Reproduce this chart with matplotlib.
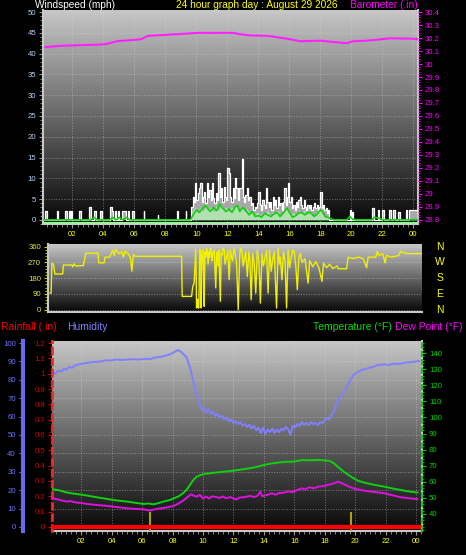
import numpy as np
import matplotlib
matplotlib.use('Agg')
import matplotlib.pyplot as plt
from matplotlib.colors import LinearSegmentedColormap
from matplotlib.ticker import MultipleLocator, FuncFormatter

plt.rcParams['font.family'] = ['Liberation Sans', 'DejaVu Sans']

# ---- data (hours of day) ----
baro_h = [0.26, 1.2, 3.8, 4.26, 4.9, 6.4, 6.9, 8.8, 10.1, 12.4, 12.8, 13.5, 14.6,
          16.1, 16.7, 18.0, 18.8, 19.7, 20.1, 21.0, 21.9, 22.5, 24.0, 24.25]
baro_in = [30.13, 30.14, 30.15, 30.156, 30.176, 30.19, 30.217, 30.23, 30.24, 30.24,
           30.23, 30.22, 30.217, 30.19, 30.175, 30.18, 30.17, 30.16, 30.175, 30.18,
           30.19, 30.198, 30.195, 30.19]

# gusts: calm spikes before the windy spell, 5-minute readings during it, spikes after
pre_h = [0.1, 0.25, 0.33, 1.0, 1.06, 1.55, 1.68, 1.75, 1.85, 1.92, 2.0, 2.45, 2.52,
         3.1, 3.17, 3.42, 3.5, 3.8, 3.88, 4.45, 4.55, 4.62, 4.75, 4.83, 4.95, 5.03,
         5.2, 5.45, 5.6, 5.68, 5.85, 6.0, 6.6, 6.65, 7.5, 7.55, 8.75, 8.8, 9.3, 9.35]
pre_mph = [0, 2.2, 0, 2.2, 0, 2.2, 0, 2.2, 0, 2.2, 0, 2.2, 0,
           3.0, 0, 2.2, 0, 2.2, 0, 3.0, 2.2, 0, 2.2, 0, 2.2, 0,
           2.2, 0, 2.2, 0, 2.2, 0, 2.2, 0, 1.1, 0, 2.2, 0, 2.2, 0]
gust_mph = [3.2, 5.6, 4.4, 8.8, 4.8, 6.4, 7.6, 8.8, 4.4, 5.6, 6.8, 4.0, 8.8, 5.6, 7.2,
            4.8, 8.8, 5.2, 4.0, 6.4, 4.8, 11.2, 5.6, 7.6, 4.4, 8.0, 5.6, 4.8, 12.4,
            11.2, 5.6, 4.4, 7.6, 5.2, 10.0, 7.6, 4.8, 7.6, 7.6, 14.6, 5.6, 4.4, 6.0,
            7.6, 4.8, 5.6, 3.6, 4.0, 2.4, 3.2, 2.8, 4.0, 6.8, 3.6, 2.4, 4.8, 3.6, 2.8,
            7.6, 4.4, 3.2, 4.4, 2.4, 5.6, 3.6, 4.8, 2.8, 5.6, 3.6, 4.0, 2.4, 4.4, 7.6,
            3.6, 5.6, 8.8, 4.4, 5.6, 2.8, 3.6, 2.4, 4.4, 3.2, 4.8, 5.6, 3.6, 2.8, 4.8,
            3.2, 2.4, 3.6, 2.8, 3.6, 2.4, 3.2, 4.0, 2.8, 3.6, 2.4, 3.2, 6.8, 2.8, 3.6,
            2.4, 2.8, 1.6, 2.4, 0.0]
post_h = [18.67, 19.9, 19.97, 20.05, 20.12, 21.35, 21.45, 21.7, 21.78, 22.0, 22.1,
          22.4, 22.55, 22.7, 22.8, 23.0, 23.15, 23.5, 23.6, 23.75, 24.3]
post_mph = [0, 2.4, 0, 2.0, 0, 2.8, 0, 2.4, 0, 2.4, 0, 2.4, 0, 2.4, 0, 2.0, 0, 2.4, 0,
            2.4, 2.4]

# wind speed, 10-minute readings from 09:36
speed_mph = [0, 2.4, 3.0, 1.6, 3.2, 2.0, 3.6, 2.4, 3.2, 1.8, 3.4, 2.2, 3.8, 2.6, 3.0,
             2.0, 3.2, 2.4, 3.6, 2.2, 3.4, 1.8, 2.8, 1.4, 2.4, 1.0, 2.0, 0.8, 1.8, 1.2,
             2.4, 1.0, 2.0, 1.4, 2.4, 1.0, 2.2, 3.0, 2.4, 1.2, 1.8, 1.0, 2.2, 1.6, 2.4,
             1.2, 2.0, 1.6, 1.0, 1.8, 2.6, 1.4, 1.0, 0.6, 0.0]

avg_h = [0.1, 3.2, 3.4, 3.6, 4.4, 4.6, 4.8, 4.9, 5.0, 5.2, 5.4, 5.5, 5.7, 9.6, 9.8, 10.0,
         10.2, 10.4, 10.6, 10.75, 10.9, 11.1, 11.3, 11.5, 11.7, 11.9, 12.1, 12.3, 12.5,
         12.65, 12.8, 13.0, 13.2, 13.4, 13.6, 13.8, 14.0, 14.2, 14.4, 14.6, 14.8, 15.0,
         15.2, 15.4, 15.6, 15.85, 16.0, 16.2, 16.4, 16.6, 16.8, 17.0, 17.2, 17.4, 17.6,
         17.8, 18.0, 18.15, 18.3, 18.5, 18.7, 18.9, 19.7, 19.9, 20.1, 20.3, 21.3, 21.5,
         21.8, 22.0, 24.3]
avg_mph = [0, 0, 0.6, 0, 0, 0.6, 0, 0.2, 0.6, 0.1, 0.3, 0.6, 0, 0, 1.2, 2.4, 1.8, 2.8,
           3.4, 2.6, 2.0, 3.0, 2.2, 3.8, 2.8, 2.0, 2.6, 1.8, 3.2, 3.4, 2.0, 3.0, 2.2,
           1.2, 2.0, 0.8, 1.0, 0.6, 1.6, 1.2, 0.8, 1.4, 1.8, 0.8, 1.6, 2.8, 1.8, 0.6,
           1.0, 1.6, 1.8, 1.2, 1.8, 1.6, 0.8, 1.4, 2.4, 2.0, 0.8, 0.6, 0.2, 0, 0, 0.8,
           0.1, 0, 0, 0.6, 0.4, 0, 0]

dir_h = [0.13, 0.2, 0.25, 0.35, 0.45, 0.95, 1.0, 1.55, 1.6, 1.7, 1.8, 2.3, 2.45, 3.25,
         3.3, 3.65, 3.7, 4.0, 4.2, 4.3, 4.4, 4.6, 4.8, 4.9, 5.0, 5.2, 5.35, 5.45, 5.55,
         5.65, 8.68, 8.72, 9.33, 9.4, 9.5,
         9.6, 9.63, 9.65, 9.72, 9.76, 9.8, 9.84, 9.87, 9.9, 9.93, 9.95, 9.98, 10.02,
         10.05, 10.1, 10.15, 10.18, 10.2, 10.25, 10.3, 10.35, 10.4, 10.45, 10.5, 10.55,
         10.6, 10.65, 10.7, 10.8, 10.9, 10.95, 11.0, 11.05, 11.1, 11.2, 11.25, 11.3,
         11.38, 11.45, 11.5, 11.6, 11.68, 11.77, 11.85, 11.92, 12.0, 12.08, 12.15,
         12.25, 12.36, 12.45, 12.5, 12.6, 12.68, 12.75, 12.85, 12.95, 13.05, 13.12,
         13.2, 13.3, 13.4, 13.5, 13.6, 13.7, 13.8, 13.9, 14.0, 14.1, 14.2, 14.3, 14.4,
         14.5, 14.6, 14.7, 14.85, 14.95, 15.05, 15.1, 15.2, 15.3, 15.4, 15.5, 15.6,
         15.7, 15.8, 15.9, 16.0, 16.1, 16.2, 16.3, 16.4, 16.5,
         16.7, 16.9, 17.0, 17.2, 17.4, 17.6, 17.8, 17.9, 18.1, 18.3, 18.5, 18.8, 18.85,
         19.4, 19.5, 19.8, 20.2, 20.5, 20.7, 20.8, 21.3, 21.4, 21.5, 21.75, 21.9, 22.0,
         22.3, 22.8, 22.9, 23.3, 24.25]
dir_deg = [95, 95, 265, 260, 204, 204, 255, 255, 245, 262, 250, 252, 322, 324,
           268, 268, 300, 300, 340, 310, 345, 320, 330, 300, 335, 320, 300, 220, 315,
           305, 305, 76, 76, 130, 155,
           343, 200, 10, 60, 10, 10, 250, 343, 330, 310, 10, 200, 330,
           343, 290, 19, 240, 330, 300, 350, 340, 260, 330, 300, 350,
           345, 280, 320, 340, 124, 300, 330, 250, 340, 48, 320, 310,
           350, 345, 260, 300, 340, 171, 340, 300, 280, 350, 325,
           270, 0, 300, 350, 340, 250, 285, 330, 190, 330, 280,
           57, 320, 260, 95, 340, 280, 38, 320, 250, 300, 340, 95, 340,
           220, 290, 330, 10, 350, 260, 300, 171, 330, 280, 10, 340,
           240, 300, 340, 330, 250, 114, 300, 320, 270,
           290, 152, 280, 245, 275, 240, 162, 265, 240, 260, 235, 250, 234,
           234, 299, 292, 300, 290, 240, 300, 300, 333, 310, 320, 267, 310,
           300, 310, 333, 320, 320]

hum_h = [0.1, 0.3, 0.5, 0.7, 0.85, 1.0, 1.2, 1.4, 1.6, 1.9, 2.2, 2.6, 3.0, 3.3, 3.6, 3.9,
         4.3, 4.7, 5.0, 5.4, 5.8, 6.2, 6.5, 6.8, 7.1, 7.4, 7.7, 8.0, 8.2, 8.35, 8.5, 8.7,
         8.9, 9.05, 9.2, 9.35, 9.5, 9.65, 9.8, 9.95, 10.1, 10.2, 10.35, 10.5, 10.65,
         10.8, 10.95, 11.1, 11.25, 11.4, 11.55, 11.7, 11.85, 12.0, 12.15, 12.3, 12.45,
         12.6, 12.75, 12.9, 13.05, 13.2, 13.35, 13.5, 13.65, 13.8, 13.95, 14.1, 14.25,
         14.4, 14.55, 14.7, 14.85, 15.0, 15.15, 15.3, 15.45, 15.6, 15.75, 15.9, 16.05,
         16.2, 16.35, 16.5, 16.65, 16.8, 16.95, 17.1, 17.25, 17.4, 17.55, 17.7, 17.85,
         18.0, 18.15, 18.3, 18.45, 18.6, 18.75, 18.9, 19.1, 19.3, 19.5, 19.7, 19.9,
         20.1, 20.4, 20.8, 21.2, 21.5, 21.9, 22.2, 22.5, 22.8, 23.1, 23.4, 23.7, 24.0,
         24.2]
hum_pct = [84, 83.5, 85, 84.5, 86, 85.5, 87, 86.5, 88, 88.5, 89, 89.5, 89.8, 90, 90.6,
           90.5, 91, 90.8, 91, 91.2, 91, 91.4, 91.2, 92, 92.4, 92.8, 93.5, 94.5, 95.6,
           96.2, 95.5, 94, 92.5, 89, 85, 80, 74, 70, 66, 63.5, 65, 62, 64, 61.5, 63,
           60.5, 61.5, 59.5, 60.5, 58.5, 59.5, 57.5, 58.5, 56.5, 57.5, 56, 57, 55, 56,
           54.5, 55.5, 53.5, 55, 52.5, 54, 51, 54, 50.5, 53, 51.5, 53.5, 51, 53, 51.5,
           53.5, 52.5, 54.5, 53, 50, 55, 54, 56, 55, 57, 55.5, 56.5, 55.5, 57, 56, 56.5,
           55.5, 57, 56.5, 58, 59, 58.5, 61, 62.5, 66, 69, 71.5, 74, 77, 80, 82.6, 84,
           85.2, 86.2, 87, 88, 88.4, 88, 88.8, 88.5, 89, 89.5, 89.6, 90, 90.2]

temp_h = [0.1, 0.5, 1.0, 1.5, 2.0, 2.4, 3.0, 3.7, 4.3, 5.0, 5.5, 6.1, 6.4, 6.75, 7.1, 7.4,
          7.8, 8.1, 8.4, 8.7, 8.9, 9.07, 9.25, 9.4, 9.6, 9.83, 10.2, 10.7, 11.3, 12.0,
          12.5, 13.1, 13.6, 14.0, 14.4, 14.9, 15.4, 15.96, 16.3, 16.6, 17.1, 17.7, 18.0,
          18.3, 18.6, 18.9, 19.25, 19.6, 19.9, 20.2, 20.6, 21.2, 21.9, 22.4, 23.0, 23.5,
          24.1]
temp_f = [55.3, 54.8, 53.4, 52.6, 52.0, 51.4, 50.4, 49.3, 48.4, 47.7, 47.0, 46.2, 46.5,
          46.0, 46.8, 47.7, 48.6, 49.8, 51.0, 52.9, 54.8, 57, 59.5, 61.5, 63.2, 64.2,
          65.0, 65.6, 66.2, 66.9, 67.6, 68.4, 69.4, 70.4, 71.2, 71.9, 72.4, 72.5, 73.2,
          73.5, 73.4, 73.6, 73.2, 73.1, 71.5, 69.0, 66.3, 64.0, 62.2, 60.6, 59.5, 58.2,
          57.0, 56.0, 54.9, 54.0, 53.3]

dew_h = [0.1, 0.4, 0.7, 1.05, 1.3, 1.6, 2.0, 2.37, 2.8, 3.2, 3.7, 4.2, 4.6, 5.0, 5.5, 6.1,
         6.5, 6.8, 7.2, 7.6, 8.07, 8.4, 8.7, 8.95, 9.2, 9.35, 9.6, 9.8, 10.0, 10.2, 10.4,
         10.6, 10.9, 11.1, 11.3, 11.5, 11.8, 12.0, 12.2, 12.4, 12.7, 13.1, 13.4, 13.6,
         13.76, 13.9, 14.2, 14.5, 14.8, 15.0, 15.3, 15.6, 15.9, 16.2, 16.5, 16.7, 17.0,
         17.3, 17.6, 17.95, 18.2, 18.4, 18.6, 18.9, 19.2, 19.5, 19.8, 20.15, 20.7, 21.3,
         21.9, 22.5, 23.0, 23.5, 24.1]
dew_f = [49.7, 49.2, 48.4, 47.7, 48.0, 47.2, 46.8, 46.2, 45.8, 45.4, 45.0, 44.4, 44.0,
         43.5, 43.2, 42.9, 42.1, 42.8, 43.5, 44.0, 45.0, 46.5, 48.3, 50.2, 52.2, 51.5,
         50.8, 51.8, 49.7, 50.8, 49.6, 51.0, 50.4, 50.0, 50.9, 49.8, 50.5, 49.7, 49.0,
         50.2, 50.4, 51.2, 50.5, 51.5, 53.8, 51.0, 51.8, 52.8, 52.0, 53.0, 53.2, 54.0,
         53.6, 54.9, 56.0, 55.2, 56.6, 56.0, 57.0, 57.4, 58.0, 58.5, 59.1, 60.1, 58.8,
         57.4, 56.2, 55.3, 54.3, 53.6, 52.9, 51.5, 50.4, 49.8, 49.2]

rain_rate_h = [6.54, 19.7]
rain_rate_in = [0.1, 0.1]
rain_total_h = [0.07, 24.4]
rain_total_in = [0.0, 0.0]

hour_ticks = [2, 4, 6, 8, 10, 12, 14, 16, 18, 20, 22, 24]
compass = ['N', 'W', 'S', 'E', 'N']
compass_deg = [360, 270, 180, 90, 0]

# ---- layout (pixel boxes of the original) ----
W, H = 466, 555
fig = plt.figure(figsize=(W / 100, H / 100), dpi=100, facecolor='black')
GRAD = LinearSegmentedColormap.from_list('grad', ['#070707', '#c6c6c6'])
TICK_FS = 5.6


def px_axes(l, t, r, b):
    return fig.add_axes([l / W, 1 - b / H, (r - l) / W, (b - t) / H])


def backdrop(ax):
    ax.imshow(np.linspace(0, 1, 256).reshape(-1, 1), cmap=GRAD, aspect='auto',
              extent=(0, 1, 0, 1), transform=ax.transAxes, origin='lower', zorder=0)


def hour_fmt(v, pos):
    return '%02d' % (int(round(v)) % 24)


def trim_fmt(v, pos):
    s = '%.1f' % v
    return s[:-2] if s.endswith('.0') else s


def style_frame(ax):
    ax.set_facecolor('none')
    for s in ax.spines.values():
        s.set_color('#c8c8c8')
        s.set_linewidth(1.5)
    ax.spines['top'].set_visible(False)


# ---- top: wind speed + barometer ----
ax1 = px_axes(43, 10, 418, 224)
backdrop(ax1)
style_frame(ax1)
ax1.set_xlim(0.1, 24.3)
ax1.set_ylim(-1.0, 50.5)
ax1.yaxis.set_major_locator(MultipleLocator(5))
ax1.yaxis.set_minor_locator(MultipleLocator(1))
ax1.xaxis.set_major_locator(plt.FixedLocator(hour_ticks))
ax1.xaxis.set_minor_locator(MultipleLocator(1 / 3))
ax1.xaxis.set_major_formatter(FuncFormatter(hour_fmt))
ax1.tick_params(axis='y', which='both', colors='#9a9a9a', labelcolor='#b8d0f8',
                labelsize=TICK_FS, length=3, pad=2)
ax1.tick_params(axis='y', which='minor', length=2)
ax1.tick_params(axis='x', which='both', colors='#9a9a9a', labelcolor='#ffff00',
                labelsize=TICK_FS, length=3, pad=2)
ax1.tick_params(axis='x', which='minor', length=2)
ax1.grid(True, which='major', color='#dcdcdc', ls=':', lw=0.7, alpha=0.45)

gh = np.concatenate([pre_h, 9.667 + np.arange(len(gust_mph)) / 12, post_h])
gv = np.concatenate([pre_mph, gust_mph, post_mph])
ax1.fill_between(gh, 0, gv, step='post', color='#a8a8a8', lw=0, zorder=2)
ax1.step(gh, gv, where='post', color='white', lw=0.9, zorder=3)
sh = 9.6 + np.arange(len(speed_mph)) / 6
ax1.fill_between(sh, 0, speed_mph, color='#b4f0b4', alpha=0.8, lw=0, zorder=4)
ax1.plot(avg_h, avg_mph, color='#10d010', lw=1.2, zorder=5)
ax1.axhline(-0.65, color='#a0f0a0', lw=2.2, zorder=5)

ax1b = ax1.twinx()
ax1b.set_ylim(28.768, 30.416)
ax1b.yaxis.set_major_locator(MultipleLocator(0.1))
ax1b.yaxis.set_minor_locator(MultipleLocator(0.02))
ax1b.yaxis.set_major_formatter(FuncFormatter(trim_fmt))
ax1b.tick_params(axis='y', which='both', colors='#ff00ff', labelsize=TICK_FS,
                 length=3, pad=2)
ax1b.tick_params(axis='y', which='minor', length=1.5)
for s in ax1b.spines.values():
    s.set_visible(False)
ax1b.plot(baro_h, baro_in, color='#ff20ff', lw=1.5)

fig.text(35 / W, 1 - 4.5 / H, 'Windspeed (mph)', color='white', fontsize=7.3,
         ha='left', va='center')
fig.text(257 / W, 1 - 4.5 / H, '24 hour graph day : August 29 2026', color='#ffff00',
         fontsize=7.3, ha='center', va='center')
fig.text(418 / W, 1 - 4.5 / H, 'Barometer (.in)', color='#ff00ff', fontsize=7.3,
         ha='right', va='center')

# ---- middle: wind direction ----
ax2 = px_axes(48, 244, 422, 312)
backdrop(ax2)
style_frame(ax2)
ax2.spines['right'].set_visible(False)
ax2.set_xlim(0, 24.3)
ax2.set_ylim(-13, 375)
ax2.set_xticks([])
ax2.yaxis.set_major_locator(MultipleLocator(90))
ax2.yaxis.set_minor_locator(MultipleLocator(18))
ax2.tick_params(axis='y', which='both', colors='#c8c820', labelcolor='#e6e640',
                labelsize=TICK_FS, length=3, pad=2)
ax2.tick_params(axis='y', which='minor', length=2)
ax2.grid(True, axis='y', color='#dcdcdc', ls=':', lw=0.7, alpha=0.5)
ax2.plot(dir_h, dir_deg, color='#f0f000', lw=1.0, zorder=3)
for lab, d in zip(compass, compass_deg):
    ax2.text(1.048, d, lab, transform=ax2.get_yaxis_transform(), color='#ffff00',
             fontsize=7.5, ha='center', va='center', clip_on=False)

# ---- bottom: humidity / rain / temperature / dew point ----
fig.text(1 / W, 1 - 327 / H, 'Rainfall (.in)', color='#ff0000', fontsize=7.5,
         ha='left', va='center')
fig.text(67 / W, 1 - 327 / H, 'Humidity', color='#8080ff', fontsize=7.5,
         ha='left', va='center')
fig.text(313 / W, 1 - 327 / H, 'Temperature (\u00b0F)', color='#00e000', fontsize=7.5,
         ha='left', va='center')
fig.text(395 / W, 1 - 327 / H, 'Dew Point (\u00b0F)', color='#ff00ff', fontsize=7.5,
         ha='left', va='center')

ax3 = px_axes(52, 341, 422, 531)
backdrop(ax3)
style_frame(ax3)
ax3.set_xlim(0.07, 24.4)
ax3.set_ylim(-2.2, 101.1)
ax3.spines['left'].set_position(('outward', 21))
ax3.spines['left'].set_color('#6a6ae8')
ax3.spines['left'].set_linewidth(3)
ax3.yaxis.set_major_locator(MultipleLocator(10))
ax3.yaxis.set_minor_locator(MultipleLocator(2))
ax3.tick_params(axis='y', which='both', colors='#6a6ae8', labelcolor='#7070ff',
                labelsize=TICK_FS, length=3, pad=2)
ax3.tick_params(axis='y', which='minor', length=1.5)
ax3.xaxis.set_major_locator(plt.FixedLocator(hour_ticks))
ax3.xaxis.set_minor_locator(MultipleLocator(1 / 3))
ax3.xaxis.set_major_formatter(FuncFormatter(hour_fmt))
ax3.tick_params(axis='x', which='both', colors='#9a9a9a', labelcolor='#ffff00',
                labelsize=TICK_FS, length=3, pad=2)
ax3.tick_params(axis='x', which='minor', length=2)
ax3.grid(True, which='major', color='#dcdcdc', ls=':', lw=0.7, alpha=0.45)
ax3.plot(hum_h, hum_pct, color='#8080ff', lw=1.4, zorder=3)

ax3r = ax3.twinx()
ax3r.set_ylim(-2.2 * 0.012, 101.1 * 0.012)
ax3r.yaxis.set_ticks_position('left')
ax3r.yaxis.set_label_position('left')
for s in ax3r.spines.values():
    s.set_visible(False)
ax3r.spines['left'].set_visible(True)
ax3r.spines['left'].set_color('#e03030')
ax3r.spines['left'].set_linestyle((0, (2, 2)))
ax3r.spines['left'].set_linewidth(2)
ax3r.yaxis.set_major_locator(MultipleLocator(0.1))
ax3r.yaxis.set_minor_locator(MultipleLocator(0.02))
ax3r.yaxis.set_major_formatter(FuncFormatter(trim_fmt))
ax3r.tick_params(axis='y', which='both', colors='#e00000', labelsize=TICK_FS,
                 length=3, pad=2)
ax3r.tick_params(axis='y', which='minor', length=1.5)
ax3r.vlines(rain_rate_h, -2.2 * 0.012, rain_rate_in, color='#b0a010', lw=1.5, zorder=2)
ax3r.plot(rain_total_h, rain_total_in, color='#ff0000', lw=3, zorder=4,
          solid_capstyle='butt')

ax3t = ax3.twinx()
ax3t.set_ylim(29.4, 147.5)
for s in ax3t.spines.values():
    s.set_visible(False)
ax3t.spines['right'].set_visible(True)
ax3t.spines['right'].set_color('#20c020')
ax3t.spines['right'].set_linestyle((0, (2, 2)))
ax3t.spines['right'].set_linewidth(1.5)
ax3t.set_yticks([40, 50, 60, 70, 80, 90, 100, 110, 120, 130, 140])
ax3t.yaxis.set_minor_locator(MultipleLocator(2))
ax3t.tick_params(axis='y', which='both', colors='#00d000', labelsize=TICK_FS,
                 length=3, pad=2)
ax3t.tick_params(axis='y', which='minor', length=1.5)
ax3t.plot(temp_h, temp_f, color='#10d010', lw=1.4, zorder=3)
ax3t.plot(dew_h, dew_f, color='#e010e0', lw=1.4, zorder=3)

fig.savefig('out.png', dpi=100, facecolor='black')
